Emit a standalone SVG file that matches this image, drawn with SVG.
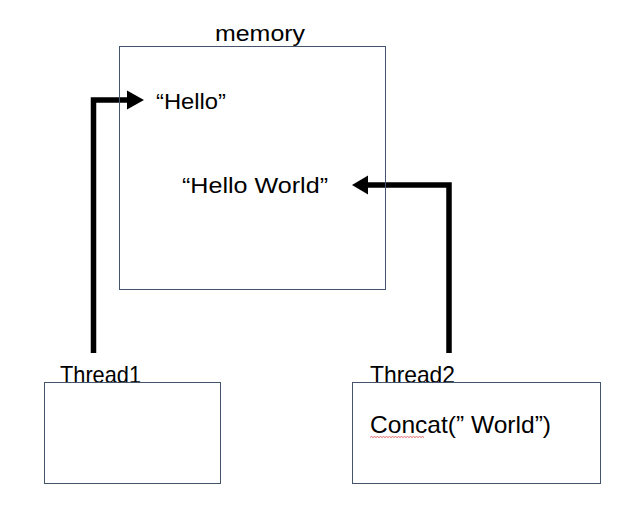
<svg xmlns="http://www.w3.org/2000/svg" width="641" height="528" viewBox="0 0 641 528">
<style>
.box{fill:none;stroke:#44546A;stroke-width:1}
.t{font-family:"Liberation Sans","Noto Sans",Arial,sans-serif;font-size:22px;fill:#000}
.big{font-size:24px}
.conn{fill:none;stroke:#000;stroke-width:5.5}
.head{fill:#000}
</style>
<rect width="641" height="528" fill="#fff"/>
<g id="connectors">
<path class="conn" d="M93.5,353 V100 H129"/>
<polygon class="head" points="144,100 127,90.5 127,109.5"/>
<path class="conn" d="M449,353 V185 H366"/>
<polygon class="head" points="352,185 368,175.5 368,194.5"/>
</g>
<g id="memory">
<rect class="box" x="119.5" y="46.5" width="266" height="243"/>
<text class="t" x="215" y="41" textLength="90" lengthAdjust="spacingAndGlyphs">memory</text>
<text class="t" x="156" y="109" textLength="70" lengthAdjust="spacingAndGlyphs">“Hello”</text>
<text class="t" x="182" y="193" textLength="146" lengthAdjust="spacingAndGlyphs">“Hello World”</text>
</g>
<g id="thread1">
<text class="t big" x="60" y="383" textLength="81" lengthAdjust="spacingAndGlyphs">Thread1</text>
<rect class="box" x="44.5" y="382.5" width="176" height="101"/>
</g>
<g id="thread2">
<text class="t big" x="370" y="383" textLength="85" lengthAdjust="spacingAndGlyphs">Thread2</text>
<rect class="box" x="352.5" y="382.5" width="248" height="101"/>
<text class="t big" x="370" y="433" textLength="181" lengthAdjust="spacingAndGlyphs">Concat(” World”)</text>
<path d="M370,437.5 l1.5,-1 1.5,1 1.5,-1 1.5,1 1.5,-1 1.5,1 1.5,-1 1.5,1 1.5,-1 1.5,1 1.5,-1 1.5,1 1.5,-1 1.5,1 1.5,-1 1.5,1 1.5,-1 1.5,1 1.5,-1 1.5,1 1.5,-1 1.5,1 1.5,-1 1.5,1 1.5,-1 1.5,1 1.5,-1 1.5,1 1.5,-1 1.5,1 1.5,-1 1.5,1 1.5,-1 1.5,1 1.5,-1 1.5,1" fill="none" stroke="#E04040" stroke-width="0.8"/>
</g>
</svg>
